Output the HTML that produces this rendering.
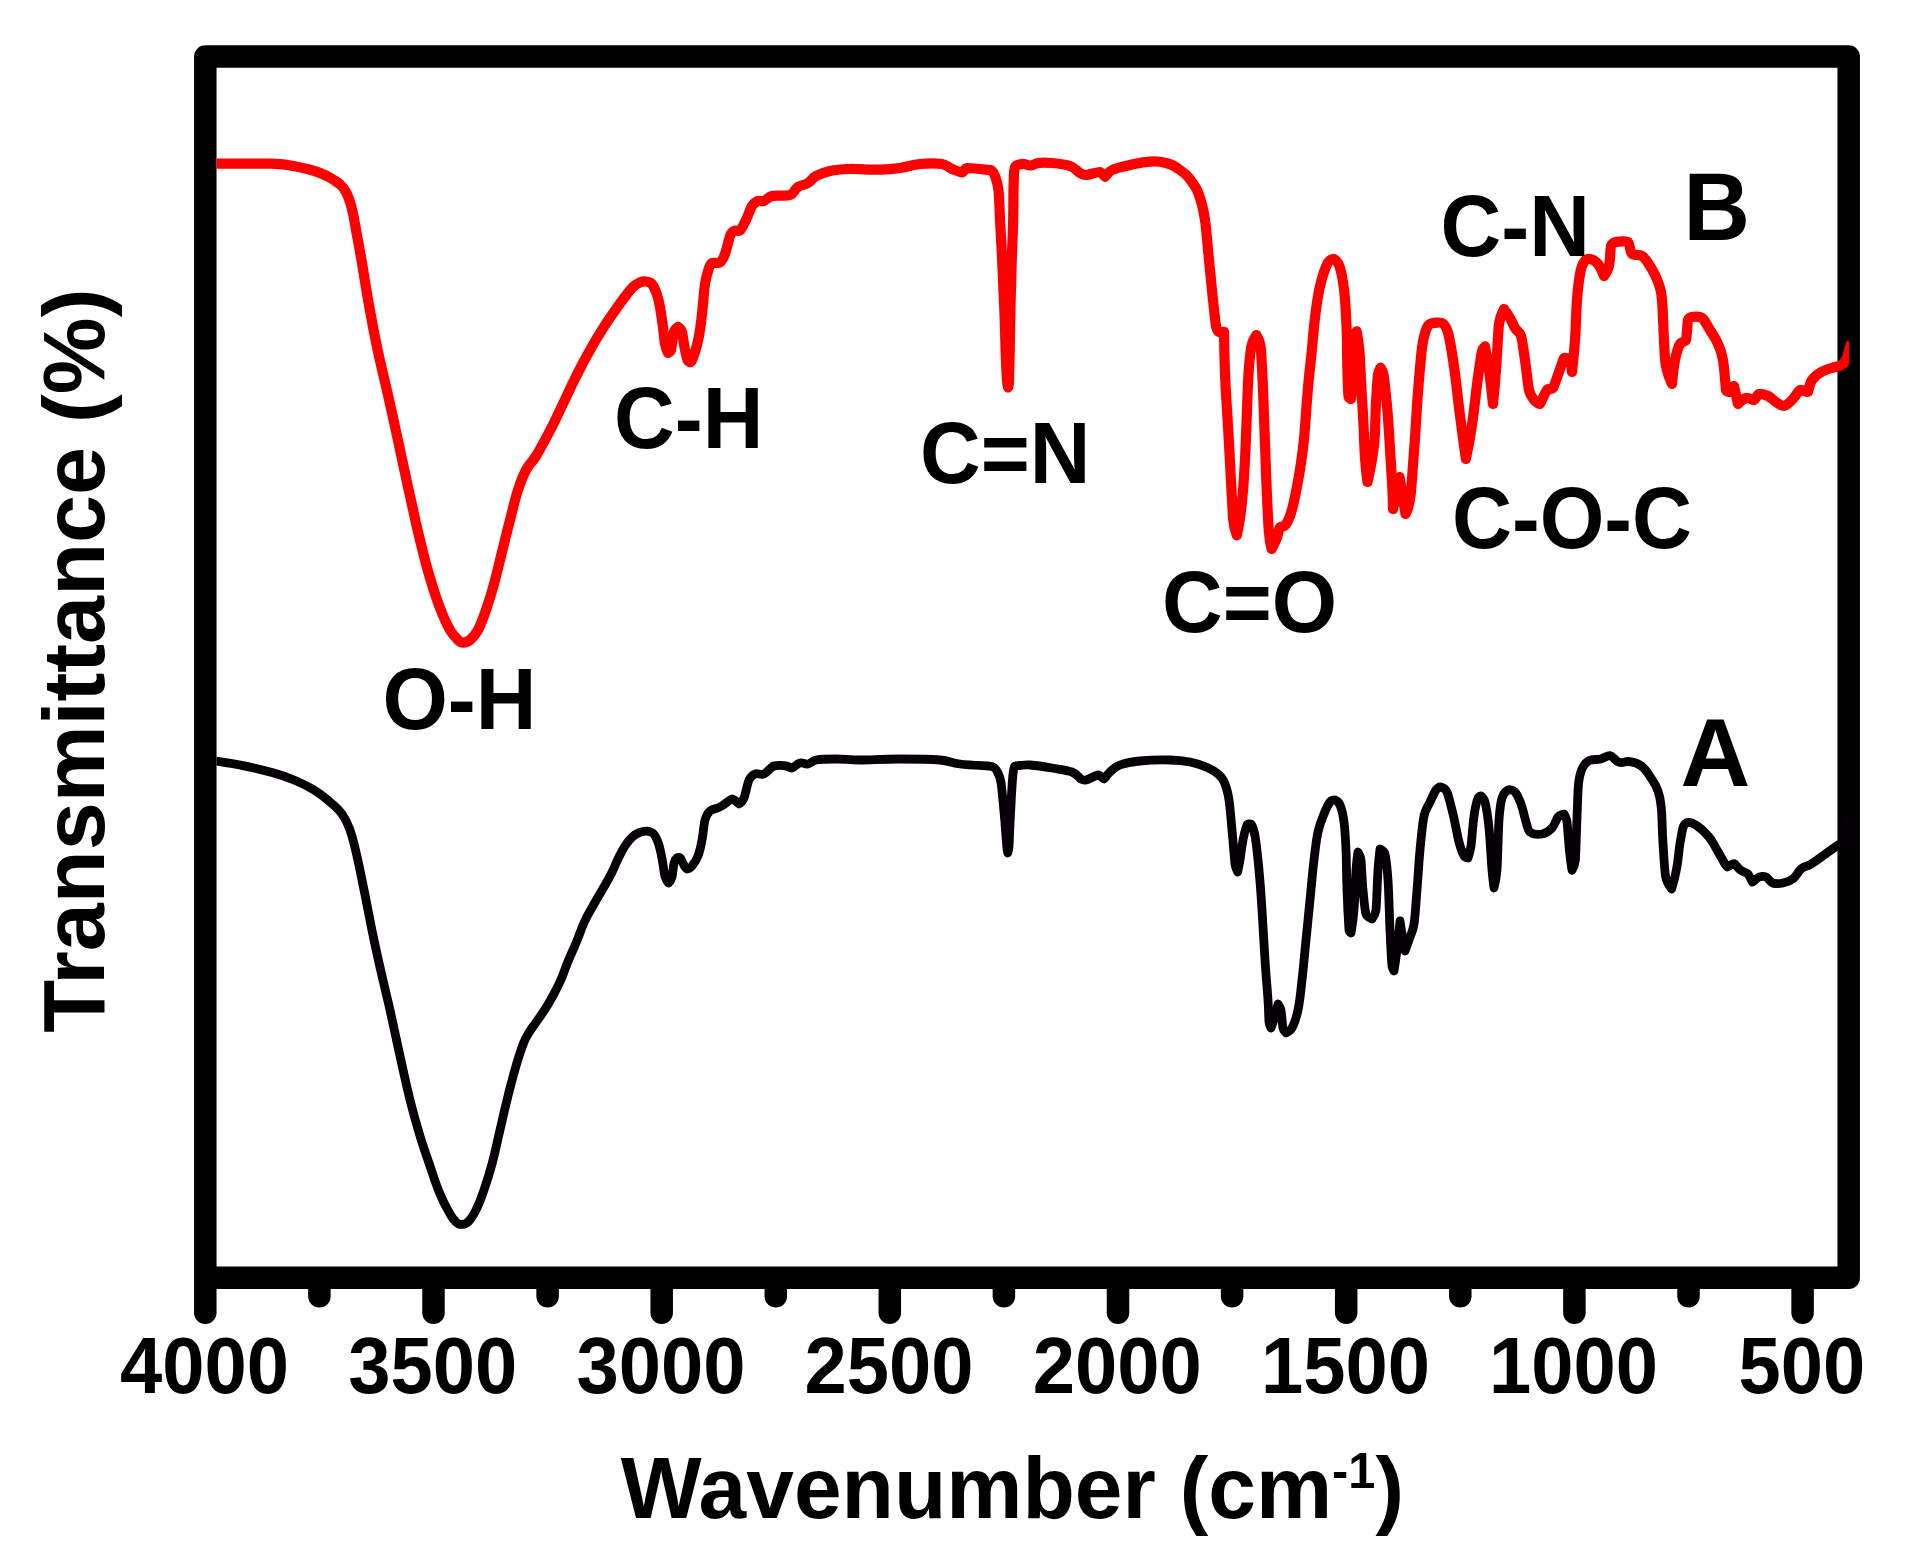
<!DOCTYPE html>
<html lang="en"><head><meta charset="utf-8"><title>FTIR spectra</title>
<style>
html,body{margin:0;padding:0;background:#fff;}
svg{display:block;}
text{font-family:"Liberation Sans",Arial,sans-serif;font-weight:700;fill:#000;}
.tk text{font-size:76px;}
.an text{font-size:84px;}
.ab text{font-size:92px;}
.ax{font-size:88px;}
</style></head>
<body>
<svg width="1915" height="1566" viewBox="0 0 1915 1566">
<rect x="0" y="0" width="1915" height="1566" fill="#ffffff"/>
<defs><clipPath id="pc"><rect x="216.5" y="60" width="1632.7" height="1210"/></clipPath></defs>
<g fill="none" stroke="#000" stroke-width="22.5" stroke-linecap="round" stroke-linejoin="round">
<path d="M205.3,1312.7 L205.3,56.6 L1848.7,56.6 L1848.7,1277.8 L205.3,1277.8"/>
<line x1="319.4" y1="1280" x2="319.4" y2="1296.2"/>
<line x1="433.5" y1="1280" x2="433.5" y2="1312.7"/>
<line x1="547.6" y1="1280" x2="547.6" y2="1296.2"/>
<line x1="661.7" y1="1280" x2="661.7" y2="1312.7"/>
<line x1="775.8" y1="1280" x2="775.8" y2="1296.2"/>
<line x1="889.8" y1="1280" x2="889.8" y2="1312.7"/>
<line x1="1003.9" y1="1280" x2="1003.9" y2="1296.2"/>
<line x1="1118.0" y1="1280" x2="1118.0" y2="1312.7"/>
<line x1="1232.1" y1="1280" x2="1232.1" y2="1296.2"/>
<line x1="1346.2" y1="1280" x2="1346.2" y2="1312.7"/>
<line x1="1460.3" y1="1280" x2="1460.3" y2="1296.2"/>
<line x1="1574.4" y1="1280" x2="1574.4" y2="1312.7"/>
<line x1="1688.5" y1="1280" x2="1688.5" y2="1296.2"/>
<line x1="1802.6" y1="1280" x2="1802.6" y2="1312.7"/>
</g>
<path fill="none" stroke="#050005" stroke-width="8.8" clip-path="url(#pc)" stroke-linejoin="round" stroke-linecap="butt" d="M215.0,761.0 C221.2,762.0 227.6,762.5 240.0,765.0 C252.4,767.5 257.9,768.6 270.0,772.0 C282.1,775.4 283.7,775.8 294.0,780.0 C304.3,784.2 305.6,784.9 314.0,790.0 C322.4,795.1 323.6,796.5 330.0,802.0 C336.4,807.5 337.3,807.4 342.0,814.0 C346.7,820.6 347.0,821.7 350.0,830.0 C353.0,838.3 353.3,840.9 356.0,852.0 C358.7,863.1 359.1,866.0 362.0,880.0 C364.9,894.0 365.0,895.0 368.0,910.0 C371.0,925.0 370.8,925.0 374.0,940.0 C377.2,955.0 378.1,959.0 382.0,976.0 C385.9,993.0 386.2,993.0 390.0,1010.0 C393.8,1027.0 395.1,1034.0 400.0,1056.0 C404.9,1078.0 405.5,1081.9 410.0,1100.0 C414.5,1118.1 415.4,1120.9 420.0,1136.0 C424.6,1151.1 425.2,1151.9 430.0,1166.0 C434.8,1180.1 435.7,1183.7 440.0,1194.0 C444.3,1204.3 447.6,1209.7 450.0,1214.0 C452.4,1218.3 454.2,1220.3 456.0,1222.0 C457.8,1223.7 458.9,1224.4 461.0,1224.4 C463.1,1224.4 465.8,1224.1 468.0,1222.0 C470.2,1219.9 472.8,1216.3 476.0,1210.0 C479.2,1203.7 480.5,1200.1 484.0,1190.0 C487.5,1179.9 488.5,1177.1 492.0,1164.0 C495.5,1150.9 496.0,1147.0 500.0,1130.0 C504.0,1113.0 504.2,1111.1 508.0,1096.0 C511.8,1080.9 512.4,1078.1 516.0,1066.0 C519.6,1053.9 521.7,1047.7 524.0,1042.0 C526.3,1036.3 527.5,1035.1 530.0,1031.0 C532.5,1026.9 532.9,1027.0 535.6,1023.0 C538.3,1019.0 542.5,1013.7 548.3,1003.9 C554.1,994.1 554.7,993.0 559.5,982.8 C564.3,972.6 563.8,971.6 567.9,961.7 C572.0,951.8 572.3,952.0 576.4,942.1 C580.5,932.2 580.9,929.4 584.8,921.0 C588.7,912.6 589.4,912.4 593.7,904.6 C598.0,896.8 598.2,896.9 602.6,889.2 C607.0,881.5 607.7,880.7 611.5,873.2 C615.3,865.7 615.3,864.3 618.5,857.8 C621.7,851.3 622.5,849.6 625.5,845.1 C628.5,840.6 629.7,839.3 632.6,836.7 C635.5,834.1 636.4,833.8 639.6,832.5 C642.8,831.2 643.6,830.8 646.6,831.1 C649.6,831.4 651.6,831.7 653.6,833.9 C655.6,836.1 656.8,838.6 658.5,843.7 C660.2,848.8 660.6,851.4 662.1,859.2 C663.6,867.0 663.9,872.4 664.9,876.0 C665.9,879.6 668.4,883.0 668.4,883.0 C668.4,883.0 671.1,880.4 671.9,877.4 C672.7,874.4 673.3,866.3 674.0,863.4 C674.7,860.5 676.1,858.4 676.8,857.8 C677.5,857.2 679.7,857.1 680.3,857.8 C680.9,858.5 683.6,864.6 684.5,866.2 C685.4,867.8 686.4,869.0 687.0,869.0 C687.6,869.0 690.3,868.0 692.0,866.0 C693.7,864.0 696.0,861.2 698.0,856.0 C700.0,850.8 700.4,848.1 702.0,840.0 C703.6,831.9 703.7,824.7 705.0,820.0 C706.3,815.3 707.0,813.6 710.0,811.0 C713.0,808.4 715.4,809.5 720.0,807.0 C724.6,804.5 730.0,799.3 732.0,799.0 C734.0,798.7 738.3,804.1 739.0,804.0 C739.7,803.9 742.6,801.3 744.0,798.0 C745.4,794.7 747.4,783.4 749.0,780.0 C750.6,776.6 752.2,775.1 755.0,774.0 C757.8,772.9 760.6,775.4 764.0,774.0 C767.4,772.6 769.5,767.6 774.0,766.0 C778.5,764.4 783.0,765.7 786.0,766.0 C789.0,766.3 789.8,768.5 792.0,768.0 C794.2,767.5 796.8,763.8 800.0,763.0 C803.2,762.2 804.6,764.6 808.0,764.0 C811.4,763.4 811.9,760.7 816.0,760.0 C820.1,759.3 826.0,759.0 836.0,759.0 C846.0,759.0 848.0,760.0 860.0,760.0 C872.0,760.0 880.0,759.0 900.0,759.0 C920.0,759.0 930.0,759.2 940.0,760.0 C950.0,760.8 949.9,762.7 960.0,764.0 C970.1,765.3 985.0,765.7 988.0,766.0 C991.0,766.3 992.0,766.1 994.0,767.5 C996.0,768.9 996.6,770.1 998.0,773.0 C999.4,775.9 1000.1,777.4 1000.9,782.0 C1001.7,786.6 1002.0,791.0 1002.9,800.0 C1003.8,809.0 1004.0,811.0 1004.9,822.0 C1005.8,833.0 1006.4,842.5 1006.7,846.0 C1007.0,849.5 1007.8,853.0 1007.8,853.0 C1007.8,853.0 1008.7,849.5 1009.0,846.0 C1009.3,842.5 1009.6,831.0 1010.3,818.0 C1011.0,805.0 1011.2,800.5 1011.7,792.0 C1012.2,783.5 1012.4,779.4 1012.9,775.0 C1013.4,770.6 1013.9,767.3 1014.6,766.3 C1015.3,765.3 1017.3,765.7 1020.0,765.5 C1022.7,765.3 1025.1,764.6 1030.0,765.0 C1034.9,765.4 1042.0,766.3 1052.0,768.0 C1062.0,769.7 1067.1,770.2 1072.0,772.0 C1076.9,773.8 1079.0,777.8 1081.0,779.0 C1083.0,780.2 1083.9,780.5 1086.0,780.0 C1088.1,779.5 1095.7,775.1 1098.0,775.0 C1100.3,774.9 1103.2,779.2 1104.0,779.0 C1104.8,778.8 1106.6,775.0 1110.0,772.0 C1113.4,769.0 1114.7,767.0 1120.0,765.0 C1125.3,763.0 1130.0,762.0 1140.0,761.0 C1150.0,760.0 1160.0,759.8 1170.0,760.0 C1180.0,760.2 1181.9,760.4 1190.0,762.0 C1198.1,763.6 1199.7,764.3 1206.0,767.0 C1212.3,769.7 1213.8,770.2 1218.0,774.0 C1222.2,777.8 1222.8,778.7 1225.0,784.0 C1227.2,789.3 1227.8,791.9 1229.0,800.0 C1230.2,808.1 1230.6,815.0 1232.0,830.0 C1233.4,845.0 1234.5,859.9 1235.0,864.0 C1235.5,868.1 1237.6,872.0 1237.6,872.0 C1237.6,872.0 1239.0,866.0 1240.0,860.0 C1241.0,854.0 1241.5,847.6 1243.0,840.0 C1244.5,832.4 1246.5,826.1 1247.0,825.0 C1247.5,823.9 1250.7,823.6 1251.0,824.0 C1251.3,824.4 1253.9,829.9 1255.0,836.0 C1256.1,842.1 1257.4,853.0 1259.0,870.0 C1260.6,887.0 1260.7,890.0 1262.0,910.0 C1263.3,930.0 1263.7,940.0 1265.0,960.0 C1266.3,980.0 1267.3,989.0 1268.0,1000.0 C1268.7,1011.0 1268.7,1019.0 1269.0,1022.0 C1269.3,1025.0 1271.0,1028.0 1271.0,1028.0 C1271.0,1028.0 1273.3,1021.9 1275.0,1016.0 C1276.7,1010.1 1278.0,1004.0 1278.0,1004.0 C1278.0,1004.0 1280.4,1006.9 1281.0,1010.0 C1281.6,1013.1 1282.4,1025.4 1283.0,1028.0 C1283.6,1030.6 1285.9,1033.0 1286.0,1033.0 C1286.1,1033.0 1290.4,1031.0 1292.0,1028.0 C1293.6,1025.0 1296.1,1019.1 1298.0,1010.0 C1299.9,1000.9 1300.3,995.0 1302.0,980.0 C1303.7,965.0 1304.0,960.0 1306.0,940.0 C1308.0,920.0 1308.0,920.0 1310.0,900.0 C1312.0,880.0 1312.3,874.0 1314.0,860.0 C1315.7,846.0 1316.0,841.1 1318.0,832.0 C1320.0,822.9 1321.5,820.2 1324.0,814.0 C1326.5,807.8 1328.7,803.7 1330.0,802.0 C1331.3,800.3 1333.8,799.6 1335.0,800.0 C1336.2,800.4 1338.8,802.1 1340.0,805.0 C1341.2,807.9 1342.9,813.4 1344.0,822.0 C1345.1,830.6 1345.4,836.0 1346.0,850.0 C1346.6,864.0 1346.3,870.0 1347.0,890.0 C1347.7,910.0 1348.9,928.4 1349.0,930.0 C1349.1,931.6 1351.0,933.0 1351.0,933.0 C1351.0,933.0 1353.1,921.5 1354.0,910.0 C1354.9,898.5 1355.4,879.0 1356.0,870.0 C1356.6,861.0 1358.0,852.0 1358.0,852.0 C1358.0,852.0 1360.5,855.9 1361.0,860.0 C1361.5,864.1 1361.9,878.0 1363.0,890.0 C1364.1,902.0 1365.1,911.1 1366.0,914.0 C1366.9,916.9 1372.0,919.0 1372.0,919.0 C1372.0,919.0 1375.4,914.6 1376.0,910.0 C1376.6,905.4 1377.3,880.5 1378.0,870.0 C1378.7,859.5 1380.0,849.0 1380.0,849.0 C1380.0,849.0 1384.3,851.2 1385.0,854.0 C1385.7,856.8 1387.1,867.0 1388.0,880.0 C1388.9,893.0 1389.2,912.0 1390.0,930.0 C1390.8,948.0 1391.7,963.4 1392.0,966.0 C1392.3,968.6 1394.0,971.0 1394.0,971.0 C1394.0,971.0 1395.7,960.5 1397.0,950.0 C1398.3,939.5 1400.0,921.0 1400.0,921.0 C1400.0,921.0 1402.1,934.5 1403.0,940.0 C1403.9,945.5 1405.0,951.0 1405.0,951.0 C1405.0,951.0 1407.2,945.5 1409.0,940.0 C1410.8,934.5 1412.7,932.1 1414.0,924.0 C1415.3,915.9 1415.6,907.0 1417.0,890.0 C1418.4,873.0 1418.4,867.0 1420.0,850.0 C1421.6,833.0 1422.5,823.2 1424.0,816.0 C1425.5,808.8 1427.2,808.1 1430.0,802.0 C1432.8,795.9 1434.5,792.0 1436.0,790.0 C1437.5,788.0 1439.8,786.8 1441.0,787.0 C1442.2,787.2 1445.7,789.0 1447.0,792.0 C1448.3,795.0 1450.3,802.9 1453.0,814.0 C1455.7,825.1 1457.1,834.9 1459.0,842.0 C1460.9,849.1 1463.2,854.5 1464.0,856.0 C1464.8,857.5 1468.0,858.0 1468.0,858.0 C1468.0,858.0 1470.1,852.1 1471.0,846.0 C1471.9,839.9 1472.7,825.1 1474.0,816.0 C1475.3,806.9 1477.5,799.3 1478.0,798.0 C1478.5,796.7 1480.7,795.9 1481.0,796.0 C1481.3,796.1 1484.2,798.8 1485.0,802.0 C1485.8,805.2 1487.7,815.0 1489.0,828.0 C1490.3,841.0 1491.2,861.0 1492.0,870.0 C1492.8,879.0 1494.0,888.0 1494.0,888.0 C1494.0,888.0 1496.3,879.0 1497.0,870.0 C1497.7,861.0 1498.2,831.0 1499.0,820.0 C1499.8,809.0 1500.7,802.3 1502.0,798.0 C1503.3,793.7 1506.5,790.7 1508.0,790.0 C1509.5,789.3 1513.2,790.1 1515.0,792.0 C1516.8,793.9 1518.7,797.8 1521.0,804.0 C1523.3,810.2 1524.4,816.9 1526.0,822.0 C1527.6,827.1 1527.6,830.2 1530.0,832.0 C1532.4,833.8 1537.6,834.8 1542.0,834.0 C1546.4,833.2 1548.5,831.8 1552.0,828.0 C1555.5,824.2 1556.1,819.2 1558.0,817.0 C1559.9,814.8 1563.8,813.9 1564.0,814.0 C1564.2,814.1 1566.4,817.9 1567.0,822.0 C1567.6,826.1 1568.5,841.3 1569.5,851.0 C1570.5,860.7 1572.0,870.3 1572.0,870.3 C1572.0,870.3 1574.9,865.2 1575.4,860.0 C1575.9,854.8 1576.3,835.0 1577.0,818.0 C1577.7,801.0 1577.7,791.6 1578.5,784.0 C1579.3,776.4 1580.0,773.5 1582.0,769.0 C1584.0,764.5 1585.3,762.7 1589.0,760.7 C1592.7,758.7 1596.0,760.1 1600.7,759.0 C1605.4,757.9 1607.0,755.2 1610.0,755.7 C1613.0,756.2 1615.4,761.2 1619.3,762.4 C1623.2,763.6 1624.8,760.9 1629.4,761.6 C1634.0,762.3 1636.7,762.6 1641.2,765.8 C1645.7,769.0 1646.0,770.5 1649.6,775.9 C1653.2,781.3 1655.3,783.2 1658.0,791.0 C1660.7,798.8 1660.5,800.3 1661.4,809.6 C1662.3,818.9 1661.9,826.6 1663.0,843.4 C1664.1,860.2 1664.5,870.8 1665.7,877.0 C1666.9,883.2 1671.6,889.0 1671.6,889.0 C1671.6,889.0 1674.7,878.9 1676.6,868.7 C1678.5,858.5 1678.6,851.9 1680.0,843.4 C1681.4,834.9 1682.4,829.0 1683.4,826.5 C1684.4,824.0 1686.6,822.4 1688.4,822.3 C1690.2,822.2 1693.4,823.2 1696.9,825.7 C1700.4,828.2 1703.8,830.7 1708.7,836.6 C1713.6,842.5 1713.5,844.1 1717.0,850.0 C1720.5,855.9 1722.2,859.3 1723.8,861.9 C1725.4,864.5 1726.5,866.9 1727.2,867.0 C1727.9,867.1 1732.5,863.2 1734.0,863.6 C1735.5,864.0 1737.8,868.1 1740.7,870.3 C1743.6,872.5 1745.2,871.4 1747.5,873.7 C1749.8,876.0 1752.3,882.1 1752.5,882.2 C1752.7,882.3 1756.7,878.0 1759.3,877.0 C1761.9,876.0 1763.6,875.9 1766.0,877.0 C1768.4,878.1 1769.5,881.8 1772.8,883.0 C1776.1,884.2 1778.3,884.0 1782.9,883.0 C1787.5,882.0 1789.1,881.8 1793.0,878.8 C1796.9,875.8 1797.7,871.7 1801.4,868.7 C1805.1,865.7 1806.4,867.0 1810.7,864.3 C1815.0,861.6 1820.0,857.8 1826.0,853.6 C1832.0,849.4 1834.5,847.4 1837.9,845.1 C1841.3,842.8 1844.1,843.6 1845.0,841.0 C1845.9,838.4 1847.2,821.5 1848.0,815.0"/>
<path fill="none" stroke="#ff0000" stroke-width="10.2" clip-path="url(#pc)" stroke-linejoin="round" stroke-linecap="butt" d="M215.0,163.7 C229.2,163.7 260.1,163.3 271.7,163.7 C283.3,164.1 283.5,164.1 294.8,166.2 C306.1,168.3 309.3,169.0 318.0,172.1 C326.7,175.2 329.1,176.5 334.9,180.6 C340.7,184.7 341.8,185.2 345.4,191.1 C349.0,197.0 349.4,199.4 351.7,208.0 C354.0,216.6 354.4,221.7 357.0,235.4 C359.6,249.1 359.8,250.1 362.3,264.9 C364.8,279.7 365.2,283.9 368.6,302.8 C372.0,321.7 372.4,325.0 377.0,347.0 C381.6,369.0 382.6,371.0 388.0,395.0 C393.4,419.0 393.6,420.0 399.0,445.0 C404.4,470.0 405.1,474.0 410.0,496.0 C414.9,518.0 415.3,520.9 420.0,540.0 C424.7,559.1 425.5,562.9 430.0,578.0 C434.5,593.1 435.7,596.8 440.0,608.0 C444.3,619.2 446.9,624.6 450.0,630.0 C453.1,635.4 456.1,638.2 458.0,640.0 C459.9,641.8 461.0,642.6 463.0,642.6 C465.0,642.6 467.5,642.1 470.0,640.0 C472.5,637.9 475.1,635.4 478.0,630.0 C480.9,624.6 482.5,620.1 486.0,610.0 C489.5,599.9 490.4,597.1 494.0,584.0 C497.6,570.9 498.0,568.0 502.0,552.0 C506.0,536.0 506.1,535.0 510.0,520.0 C513.9,505.0 514.7,500.2 518.0,490.0 C521.3,479.8 522.1,477.4 526.0,470.0 C529.9,462.6 531.6,463.3 536.0,456.0 C540.4,448.7 543.3,443.4 550.0,430.5 C556.7,417.6 556.4,417.4 562.7,404.4 C569.0,391.4 568.7,391.2 575.2,378.3 C581.7,365.4 581.6,365.0 588.8,352.2 C596.0,339.4 597.0,337.6 604.4,326.1 C611.8,314.6 614.3,311.4 620.0,303.5 C625.7,295.6 628.8,291.4 632.0,288.0 C635.2,284.6 637.5,283.5 640.0,282.4 C642.5,281.3 643.3,281.2 646.0,281.6 C648.7,282.0 650.6,282.0 652.0,284.0 C653.4,286.0 656.0,290.8 658.0,298.0 C660.0,305.2 660.3,309.0 662.0,320.0 C663.7,331.0 664.2,339.4 665.0,344.0 C665.8,348.6 668.0,353.0 668.0,353.0 C668.0,353.0 670.5,351.7 671.0,350.0 C671.5,348.3 673.2,334.7 674.0,332.0 C674.8,329.3 678.0,327.0 678.0,327.0 C678.0,327.0 681.2,329.3 682.0,332.0 C682.8,334.7 683.8,344.4 685.0,350.0 C686.2,355.6 687.6,360.1 688.0,361.0 C688.4,361.9 690.8,362.3 691.0,362.0 C691.2,361.7 693.4,357.1 695.0,352.0 C696.6,346.9 697.5,344.1 699.0,336.0 C700.5,327.9 700.7,325.0 702.0,314.0 C703.3,303.0 703.8,292.1 705.0,284.0 C706.2,275.9 708.1,270.7 709.0,268.0 C709.9,265.3 710.3,263.9 712.0,263.0 C713.7,262.1 717.9,263.9 720.0,262.4 C722.1,260.9 723.3,258.4 725.0,254.0 C726.7,249.6 728.9,238.8 730.0,236.0 C731.1,233.2 732.1,232.0 734.0,231.0 C735.9,230.0 738.5,231.7 740.0,230.4 C741.5,229.1 743.4,225.4 746.0,220.0 C748.6,214.6 750.1,209.0 752.0,206.0 C753.9,203.0 755.8,201.9 758.0,201.0 C760.2,200.1 761.5,201.9 764.0,201.0 C766.5,200.1 767.9,197.0 772.0,196.0 C776.1,195.0 785.8,196.5 790.0,195.0 C794.2,193.5 793.8,189.8 798.0,187.0 C802.2,184.2 803.7,185.6 808.0,183.0 C812.3,180.4 811.6,178.4 816.0,176.0 C820.4,173.6 822.9,172.6 830.0,171.0 C837.1,169.4 839.0,169.3 848.0,169.0 C857.0,168.7 870.0,169.8 880.0,169.6 C890.0,169.4 890.1,169.4 900.0,168.0 C909.9,166.6 910.0,165.0 920.0,164.0 C930.0,163.0 937.0,163.2 942.0,164.0 C947.0,164.8 947.2,167.0 952.0,169.0 C956.8,171.0 960.1,172.5 962.0,172.4 C963.9,172.3 964.5,168.2 967.0,168.0 C969.5,167.8 986.2,169.7 988.0,169.9 C989.8,170.1 990.5,169.7 991.5,170.5 C992.5,171.3 993.9,173.1 995.0,176.0 C996.1,178.9 997.7,182.9 998.5,190.0 C999.3,197.1 999.4,208.0 1000.2,223.0 C1001.0,238.0 1001.1,238.0 1001.8,253.0 C1002.5,268.0 1003.2,281.0 1004.2,306.0 C1005.2,331.0 1005.3,342.5 1005.8,356.0 C1006.3,369.5 1007.1,380.7 1007.3,383.0 C1007.5,385.3 1008.1,387.5 1008.1,387.5 C1008.1,387.5 1008.8,385.3 1008.9,383.0 C1009.0,380.7 1009.3,369.5 1009.6,356.0 C1009.9,342.5 1009.9,331.0 1010.5,306.0 C1011.1,281.0 1011.5,268.0 1012.0,253.0 C1012.5,238.0 1012.7,238.0 1013.1,223.0 C1013.5,208.0 1013.3,199.5 1013.5,190.0 C1013.7,180.5 1014.0,173.5 1014.2,171.0 C1014.4,168.5 1014.8,167.0 1015.6,166.0 C1016.4,165.0 1017.3,165.0 1019.0,164.6 C1020.7,164.2 1021.6,163.8 1024.0,164.0 C1026.4,164.2 1027.9,165.7 1031.0,165.5 C1034.1,165.3 1034.5,163.4 1038.0,163.0 C1041.5,162.6 1045.1,162.4 1052.0,163.0 C1058.9,163.6 1064.7,164.1 1070.0,166.0 C1075.3,167.9 1077.3,171.5 1080.0,173.0 C1082.7,174.5 1083.2,175.1 1086.0,175.0 C1088.8,174.9 1097.8,171.8 1100.0,172.0 C1102.2,172.2 1104.5,177.1 1105.0,177.0 C1105.5,176.9 1108.0,171.9 1112.0,170.0 C1116.0,168.1 1120.9,167.0 1130.0,165.0 C1139.1,163.0 1142.2,162.0 1150.0,161.6 C1157.8,161.2 1158.9,161.0 1166.0,163.0 C1173.1,165.0 1174.0,165.6 1180.0,170.0 C1186.0,174.4 1187.3,175.4 1192.0,182.0 C1196.7,188.6 1197.2,189.7 1200.0,198.0 C1202.8,206.3 1203.4,208.9 1205.0,220.0 C1206.6,231.1 1207.0,240.0 1209.0,260.0 C1211.0,280.0 1211.6,287.0 1213.0,300.0 C1214.4,313.0 1215.4,322.9 1216.0,326.0 C1216.6,329.1 1217.9,331.2 1219.0,332.0 C1220.1,332.8 1223.9,331.5 1224.0,332.0 C1224.1,332.5 1224.2,354.9 1225.2,377.7 C1226.2,400.5 1227.1,408.8 1228.8,440.0 C1230.5,471.2 1232.3,509.3 1233.0,518.0 C1233.7,526.7 1236.8,535.3 1236.8,535.3 C1236.8,535.3 1239.9,521.6 1241.4,507.7 C1242.9,493.8 1243.8,482.7 1245.1,457.6 C1246.4,432.5 1247.4,393.4 1248.3,377.7 C1249.2,362.0 1250.3,352.3 1251.4,346.4 C1252.5,340.5 1256.4,335.0 1256.4,335.0 C1256.4,335.0 1259.7,340.4 1260.5,346.0 C1261.3,351.6 1261.7,362.0 1262.5,378.0 C1263.3,394.0 1263.5,404.0 1264.5,430.0 C1265.5,456.0 1265.5,461.5 1266.5,485.0 C1267.5,508.5 1268.2,523.5 1268.9,532.0 C1269.6,540.5 1271.5,549.0 1271.5,549.0 C1271.5,549.0 1274.5,544.1 1276.5,539.0 C1278.5,533.9 1278.5,529.6 1279.6,527.8 C1280.7,526.0 1283.6,527.2 1285.2,525.3 C1286.8,523.4 1288.5,520.5 1290.3,515.2 C1292.1,509.9 1293.2,505.3 1295.3,495.2 C1297.4,485.1 1298.2,481.4 1300.3,467.6 C1302.4,453.8 1302.6,453.2 1304.0,438.8 C1305.4,424.4 1306.2,408.7 1307.8,390.0 C1309.4,371.3 1309.7,371.4 1311.6,352.7 C1313.5,334.0 1313.4,330.1 1315.3,315.0 C1317.2,299.9 1317.6,296.4 1320.3,285.0 C1323.0,273.6 1326.7,264.9 1327.9,262.5 C1329.1,260.1 1332.9,258.8 1333.7,259.0 C1334.5,259.2 1338.1,262.1 1339.4,266.0 C1340.7,269.9 1342.7,277.9 1344.1,290.0 C1345.5,302.1 1345.8,308.9 1346.6,327.6 C1347.4,346.3 1346.9,349.2 1347.3,365.0 C1347.7,380.8 1348.4,395.1 1348.5,396.5 C1348.6,397.9 1351.0,399.0 1351.0,399.0 C1351.0,399.0 1352.8,381.8 1354.2,365.0 C1355.6,348.2 1356.7,331.4 1356.7,331.4 C1356.7,331.4 1358.7,341.7 1359.5,352.0 C1360.3,362.3 1360.5,372.5 1361.5,390.0 C1362.5,407.5 1362.7,408.5 1363.5,425.0 C1364.3,441.5 1364.2,446.0 1365.0,458.0 C1365.8,470.0 1367.5,482.0 1367.5,482.0 C1367.5,482.0 1369.6,473.5 1371.0,465.0 C1372.4,456.5 1373.5,452.5 1374.5,440.0 C1375.5,427.5 1375.2,417.0 1376.0,403.0 C1376.8,389.0 1377.5,378.7 1378.0,375.0 C1378.5,371.3 1380.5,367.7 1380.5,367.7 C1380.5,367.7 1382.9,371.2 1383.6,375.0 C1384.3,378.8 1385.6,391.7 1386.7,402.8 C1387.8,413.9 1387.7,413.9 1388.5,425.0 C1389.3,436.1 1389.5,441.9 1390.5,457.6 C1391.5,473.3 1391.9,479.0 1392.4,489.0 C1392.9,499.0 1393.0,509.0 1393.0,509.0 C1393.0,509.0 1394.6,502.0 1396.0,495.0 C1397.4,488.0 1399.5,477.0 1399.5,477.0 C1399.5,477.0 1401.0,486.0 1402.5,495.0 C1404.0,504.0 1405.5,514.0 1405.5,514.0 C1405.5,514.0 1407.2,511.1 1408.0,508.0 C1408.8,504.9 1409.9,501.6 1410.6,495.2 C1411.3,488.8 1411.9,480.1 1413.0,465.0 C1414.1,449.9 1414.3,447.5 1415.5,430.0 C1416.7,412.5 1416.5,411.0 1418.0,392.0 C1419.5,373.0 1420.9,355.7 1422.2,346.4 C1423.5,337.1 1425.7,330.7 1426.8,328.0 C1427.9,325.3 1429.0,324.1 1431.4,323.4 C1433.8,322.7 1440.6,321.9 1442.9,323.4 C1445.2,324.9 1447.1,328.9 1448.6,335.0 C1450.1,341.1 1452.0,352.1 1454.4,369.4 C1456.8,386.7 1457.2,393.6 1460.0,415.4 C1462.8,437.2 1465.9,459.0 1465.9,459.0 C1465.9,459.0 1469.3,443.1 1471.7,427.0 C1474.1,410.9 1475.5,396.0 1477.5,381.0 C1479.5,366.0 1481.5,353.5 1482.0,351.0 C1482.5,348.5 1485.0,346.4 1485.0,346.4 C1485.0,346.4 1487.4,358.2 1489.0,370.0 C1490.6,381.8 1493.0,404.0 1493.0,404.0 C1493.0,404.0 1494.7,387.0 1496.0,370.0 C1497.3,353.0 1498.0,331.6 1499.0,324.0 C1500.0,316.4 1504.0,309.0 1504.0,309.0 C1504.0,309.0 1507.3,313.3 1510.0,318.0 C1512.7,322.7 1512.4,323.8 1515.0,328.0 C1517.6,332.2 1519.6,331.7 1521.0,336.0 C1522.4,340.3 1523.2,348.0 1525.0,360.0 C1526.8,372.0 1527.8,384.8 1529.0,390.0 C1530.2,395.2 1532.0,397.5 1534.0,400.0 C1536.0,402.5 1539.8,404.1 1540.0,404.0 C1540.2,403.9 1545.5,391.9 1547.0,390.0 C1548.5,388.1 1551.8,389.8 1553.0,388.0 C1554.2,386.2 1556.4,379.0 1559.0,372.0 C1561.6,365.0 1563.6,358.4 1564.0,358.0 C1564.4,357.6 1569.1,358.5 1570.0,360.0 C1570.9,361.5 1572.0,372.0 1572.0,372.0 C1572.0,372.0 1573.9,356.0 1575.0,340.0 C1576.1,324.0 1576.0,313.0 1577.0,300.0 C1578.0,287.0 1578.9,280.1 1580.0,274.0 C1581.1,267.9 1582.6,264.1 1584.0,262.0 C1585.4,259.9 1588.0,258.7 1590.0,259.0 C1592.0,259.3 1595.4,260.8 1598.0,264.0 C1600.6,267.2 1604.0,276.0 1604.0,276.0 C1604.0,276.0 1607.8,271.1 1609.0,266.0 C1610.2,260.9 1610.3,248.3 1611.0,246.0 C1611.7,243.7 1613.5,242.6 1616.0,242.0 C1618.5,241.4 1626.3,240.7 1628.0,242.0 C1629.7,243.3 1630.0,252.0 1632.0,254.0 C1634.0,256.0 1638.6,253.7 1642.0,256.0 C1645.4,258.3 1646.7,260.6 1650.0,266.0 C1653.3,271.4 1655.1,273.8 1658.0,282.0 C1660.9,290.2 1661.1,290.9 1662.0,300.0 C1662.9,309.1 1663.2,327.0 1664.0,340.0 C1664.8,353.0 1664.3,356.9 1666.0,366.0 C1667.7,375.1 1672.0,384.0 1672.0,384.0 C1672.0,384.0 1673.4,368.1 1675.0,360.0 C1676.6,351.9 1678.6,346.6 1680.0,344.0 C1681.4,341.4 1685.2,342.4 1686.0,340.0 C1686.8,337.6 1687.5,321.8 1688.0,320.0 C1688.5,318.2 1690.1,317.3 1692.0,317.0 C1693.9,316.7 1699.2,316.0 1702.0,318.0 C1704.8,320.0 1706.2,323.9 1710.0,330.0 C1713.8,336.1 1714.9,336.7 1718.0,344.0 C1721.1,351.3 1721.6,351.9 1723.0,360.0 C1724.4,368.1 1725.7,388.7 1726.0,390.0 C1726.3,391.3 1729.5,392.3 1730.0,392.0 C1730.5,391.7 1734.0,386.0 1734.0,386.0 C1734.0,386.0 1738.0,404.0 1738.0,404.0 C1738.0,404.0 1743.2,398.7 1746.0,398.0 C1748.8,397.3 1752.3,400.5 1754.0,400.0 C1755.7,399.5 1757.1,394.5 1759.0,394.0 C1760.9,393.5 1764.1,394.2 1768.0,396.0 C1771.9,397.8 1772.3,399.7 1776.0,402.0 C1779.7,404.3 1781.8,406.3 1784.0,406.0 C1786.2,405.7 1788.6,403.4 1792.0,400.0 C1795.4,396.6 1798.1,390.9 1800.0,390.0 C1801.9,389.1 1807.3,392.6 1808.0,392.0 C1808.7,391.4 1808.9,384.5 1812.0,380.0 C1815.1,375.5 1816.9,374.5 1822.0,371.6 C1827.1,368.7 1829.8,368.7 1833.6,367.4 C1837.4,366.1 1838.7,366.6 1841.3,365.0 C1843.9,363.4 1844.5,362.8 1846.0,360.0 C1847.5,357.2 1847.6,355.5 1849.0,351.0 C1850.4,346.5 1850.9,344.2 1851.5,342.0"/>
<g class="tk">
<text transform="translate(204.5,1393) scale(1,1.055)" text-anchor="middle">4000</text>
<text transform="translate(432.7,1393) scale(1,1.055)" text-anchor="middle">3500</text>
<text transform="translate(660.9,1393) scale(1,1.055)" text-anchor="middle">3000</text>
<text transform="translate(889.0,1393) scale(1,1.055)" text-anchor="middle">2500</text>
<text transform="translate(1117.2,1393) scale(1,1.055)" text-anchor="middle">2000</text>
<text transform="translate(1345.4,1393) scale(1,1.055)" text-anchor="middle">1500</text>
<text transform="translate(1573.6,1393) scale(1,1.055)" text-anchor="middle">1000</text>
<text transform="translate(1801.8,1393) scale(1,1.055)" text-anchor="middle">500</text>
</g>
<g class="an">
<text transform="translate(382.5,729) scale(1,1.04)">O-H</text>
<text transform="translate(614,447.5) scale(1,1.04)">C-H</text>
<text transform="translate(920,483) scale(1,1.04)">C=N</text>
<text transform="translate(1162,632) scale(1,1.04)">C=O</text>
<text transform="translate(1440.5,256) scale(1,1.04)">C-N</text>
<text transform="translate(1451.9,548) scale(0.99,1.04)">C-O-C</text>
</g>
<g class="ab">
<text transform="translate(1683.5,240) scale(1,1.04)">B</text>
<text transform="translate(1680.5,786) scale(1.05,1.04)">A</text>
</g>
<text class="ax" transform="translate(1012.4,1517.6) scale(0.974,1)" text-anchor="middle">Wavenumber (cm<tspan font-size="50" dy="-29.5">-1</tspan><tspan dy="29.5">)</tspan></text>
<text class="ax" transform="translate(103.8,660.7) rotate(-90) scale(0.982,1)" text-anchor="middle">Transmittance (%)</text>
</svg>
</body></html>
